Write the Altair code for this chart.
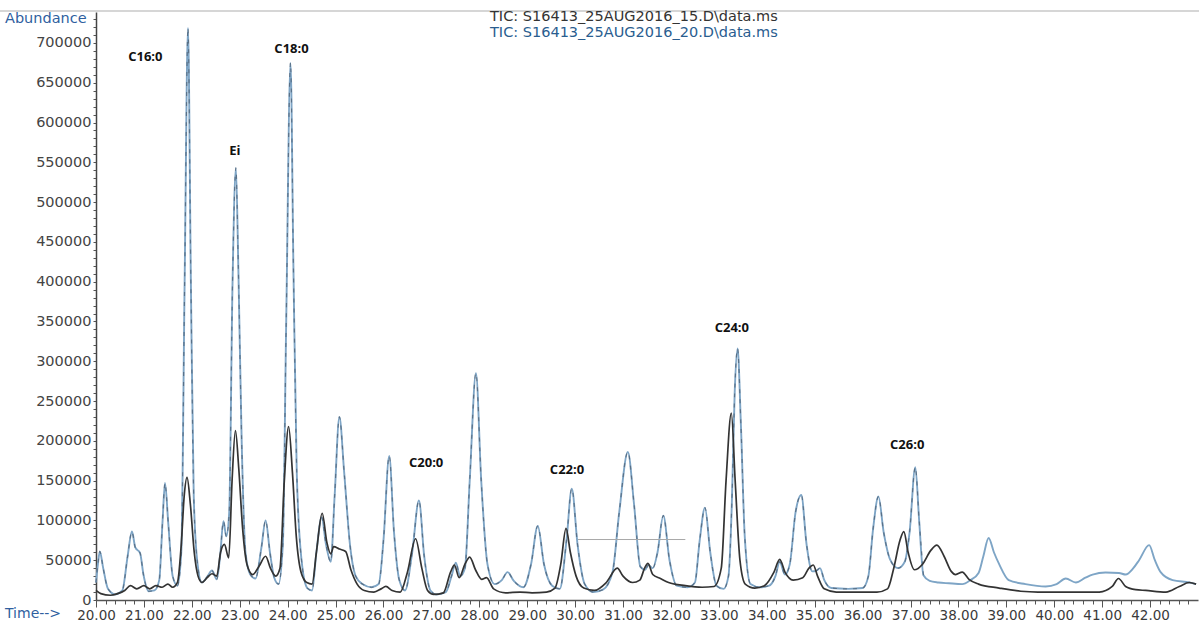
import altair as alt
import pandas as pd

# ---- data ----
blue_t = [20.00, 20.04, 20.08, 20.15, 20.25, 20.40, 20.55, 20.66, 20.75, 20.82, 20.92, 20.99,
          21.10, 21.22, 21.32, 21.39, 21.44, 21.51, 21.60, 21.70, 21.78, 21.85, 21.92, 21.98,
          22.04, 22.12, 22.21, 22.33, 22.42, 22.52, 22.59, 22.66, 22.72, 22.78, 22.85, 22.92,
          22.97, 23.04, 23.12, 23.22, 23.33, 23.45, 23.54, 23.63, 23.72, 23.81, 23.90, 23.97,
          24.06, 24.12, 24.19, 24.29, 24.41, 24.51, 24.60, 24.71, 24.80, 24.90, 24.98, 25.08,
          25.18, 25.30, 25.42, 25.56, 25.75, 25.90, 26.00, 26.12, 26.22, 26.33, 26.45, 26.60,
          26.74, 26.85, 26.98, 27.10, 27.30, 27.42, 27.51, 27.60, 27.70, 27.80, 27.93, 28.04,
          28.17, 28.32, 28.47, 28.59, 28.72, 28.92, 29.08, 29.22, 29.35, 29.52, 29.68, 29.82,
          29.93, 30.05, 30.20, 30.38, 30.58, 30.78, 30.92, 31.10, 31.23, 31.36, 31.46, 31.53,
          31.62, 31.72, 31.84, 31.97, 32.12, 32.35, 32.50, 32.60, 32.71, 32.82, 32.95, 33.10,
          33.20, 33.27, 33.33, 33.39, 33.46, 33.54, 33.66, 33.85, 34.05, 34.18, 34.27, 34.38,
          34.48, 34.60, 34.72, 34.83, 34.95, 35.04, 35.11, 35.20, 35.35, 35.70, 36.00, 36.12,
          36.22, 36.33, 36.44, 36.58, 36.74, 36.88, 36.98, 37.10, 37.18, 37.27, 37.40, 37.58,
          37.80, 38.08, 38.25, 38.42, 38.52, 38.63, 38.74, 38.85, 39.05, 39.40, 39.82, 40.05,
          40.24, 40.45, 40.65, 40.80, 41.07, 41.35, 41.49, 41.65, 41.77, 41.98, 42.10, 42.22,
          42.47, 42.82, 42.96]
blue_a = [22000, 45000, 61000, 40000, 14000, 7000, 12000, 55000, 86000, 66000, 59000, 32000,
          11000, 12000, 25000, 100000, 147000, 95000, 30000, 18000, 60000, 400000, 719000, 400000,
          130000, 45000, 22000, 30000, 37000, 26000, 55000, 99000, 80000, 110000, 400000, 543000,
          420000, 200000, 60000, 32000, 27000, 65000, 100000, 60000, 28000, 20000, 70000, 350000,
          675000, 420000, 160000, 50000, 15000, 12000, 60000, 104000, 70000, 48000, 130000, 230000,
          160000, 70000, 30000, 20000, 16000, 20000, 75000, 181000, 85000, 25000, 12000, 60000,
          125000, 55000, 12000, 7000, 10000, 30000, 47000, 30000, 40000, 150000, 285000, 150000,
          45000, 20000, 25000, 35000, 24000, 16000, 45000, 93000, 45000, 18000, 14000, 75000,
          140000, 70000, 20000, 10000, 13000, 35000, 110000, 186000, 120000, 42000, 38000, 44000,
          40000, 60000, 106000, 50000, 18000, 16000, 22000, 75000, 116000, 60000, 18000, 14000,
          30000, 120000, 260000, 316000, 220000, 80000, 20000, 16000, 18000, 30000, 48000, 32000,
          45000, 110000, 132000, 70000, 36000, 37000, 40000, 25000, 15000, 14000, 15000, 30000,
          90000, 130000, 85000, 50000, 40000, 48000, 85000, 167000, 100000, 31000, 24000, 22000,
          21000, 20000, 25000, 34000, 55000, 78000, 60000, 45000, 25000, 20000, 17000, 20000,
          27000, 22000, 28000, 32000, 34500, 34000, 32000, 40000, 50000, 69000, 50000, 35000,
          25000, 22000, 20000]

black_t = [20.00, 20.10, 20.30, 20.45, 20.60, 20.72, 20.85, 21.00, 21.12, 21.25, 21.38, 21.50,
           21.60, 21.70, 21.78, 21.84, 21.90, 21.97, 22.05, 22.13, 22.21, 22.32, 22.42, 22.52,
           22.60, 22.68, 22.77, 22.84, 22.91, 22.98, 23.06, 23.15, 23.27, 23.40, 23.54, 23.64,
           23.75, 23.84, 23.93, 24.02, 24.10, 24.18, 24.28, 24.40, 24.51, 24.60, 24.72, 24.82,
           24.90, 24.96, 25.08, 25.21, 25.32, 25.45, 25.60, 25.80, 25.95, 26.05, 26.18, 26.35,
           26.50, 26.67, 26.80, 26.92, 27.05, 27.25, 27.40, 27.48, 27.58, 27.70, 27.80, 27.92,
           28.05, 28.15, 28.30, 28.55, 28.85, 29.10, 29.40, 29.58, 29.70, 29.81, 29.90, 30.02,
           30.18, 30.40, 30.65, 30.88, 31.00, 31.20, 31.35, 31.45, 31.52, 31.62, 31.78, 31.95,
           32.30, 32.65, 32.90, 33.05, 33.15, 33.26, 33.34, 33.44, 33.55, 33.75, 33.95, 34.15,
           34.27, 34.38, 34.55, 34.75, 34.88, 34.97, 35.06, 35.20, 35.45, 35.90, 36.30, 36.52,
           36.65, 36.78, 36.86, 36.95, 37.08, 37.25, 37.42, 37.55, 37.70, 37.85, 37.94, 38.08,
           38.22, 38.42, 38.85, 39.30, 39.66, 40.30, 40.94, 41.21, 41.34, 41.49, 41.70, 41.91,
           42.33, 42.61, 42.82, 42.96]
black_a = [12000, 8000, 6000, 8000, 12000, 18000, 14000, 18000, 14000, 18000, 16000, 20000,
           16000, 22000, 70000, 130000, 154000, 120000, 60000, 30000, 22000, 28000, 33000, 30000,
           60000, 70000, 53000, 150000, 213000, 165000, 90000, 45000, 32000, 42000, 55000, 40000,
           30000, 40000, 150000, 218000, 160000, 80000, 35000, 22000, 20000, 60000, 109000, 72000,
           58000, 67000, 64000, 61000, 38000, 20000, 12000, 10000, 14000, 17000, 12000, 10000,
           35000, 77000, 40000, 12000, 7000, 9000, 35000, 44000, 28000, 45000, 54000, 38000,
           26000, 28000, 14000, 9000, 10000, 9000, 10000, 15000, 45000, 90000, 60000, 30000,
           15000, 12000, 22000, 40000, 30000, 22000, 25000, 40000, 46000, 32000, 27000, 22000,
           18000, 16000, 17000, 40000, 150000, 235000, 150000, 50000, 20000, 15000, 18000, 35000,
           51000, 35000, 25000, 28000, 40000, 44000, 30000, 14000, 10000, 10000, 10000, 14000,
           40000, 75000, 86000, 60000, 38000, 45000, 62000, 69000, 55000, 36000, 32000, 35000,
           26000, 20000, 15000, 11000, 10000, 10000, 10000, 17000, 27000, 17000, 13000, 12000,
           10000, 17000, 22000, 20000]

ann_labels = ["C16:0", "Ei", "C18:0", "C20:0", "C22:0", "C24:0", "C26:0"]
ann_t = [21.03, 22.90, 24.08, 26.89, 29.83, 33.27, 36.93]
ann_a = [682000, 564000, 693000, 172000, 163000, 342000, 195000]

# faint horizontal baseline segment near C22:0
hline_t0 = [30.06]
hline_t1 = [32.30]
hline_a = [76000]

series_names = ["TIC: S16413_25AUG2016_15.D\\data.ms", "TIC: S16413_25AUG2016_20.D\\data.ms"]

x_ticks = [round(20 + 0.2 * i, 1) for i in range(115)]
y_ticks = [10000 * i for i in range(74)]

blue = pd.DataFrame({"t": blue_t, "a": blue_a})
black = pd.DataFrame({"t": black_t, "a": black_a})
ann = pd.DataFrame({"label": ann_labels, "t": ann_t, "a": ann_a})
hl = pd.DataFrame({"t": hline_t0, "t2": hline_t1, "a": hline_a})

W, H = 1102, 588

X = alt.X("t:Q", title=None,
          scale=alt.Scale(domain=[20, 43.0], nice=False, zero=False),
          axis=alt.Axis(values=x_ticks, grid=False, domainColor="#555555", domainWidth=1.5,
                        tickColor="#555555", tickWidth=1,
                        tickSize={"condition": {"test": "abs(datum.value - round(datum.value)) < 0.001", "value": 7}, "value": 4},
                        labelExpr="abs(datum.value - round(datum.value)) < 0.001 ? format(datum.value, '.2f') : ''",
                        labelFont="DejaVu Sans", labelFontSize=13.5, labelColor="#3a3a3a",
                        labelPadding=1, labelOverlap=False, labelFlush=False))
Y = alt.Y("a:Q", title=None,
          scale=alt.Scale(domain=[0, 738900], nice=False),
          axis=alt.Axis(values=y_ticks, grid=False, domainColor="#444444", domainWidth=1.5,
                        tickColor="#555555", tickSize=3, tickWidth=1,
                        labelExpr="datum.value % 50000 === 0 ? '' + datum.value : ''",
                        labelFont="DejaVu Sans", labelFontSize=14.5, labelColor="#444444",
                        labelPadding=2, labelOverlap=False, labelFlush=False))

blue_line = alt.Chart(blue).mark_line(color="#7ea5c6", strokeWidth=1.9, interpolate="monotone").encode(x=X, y=Y)
blue_dash = alt.Chart(blue).transform_filter("datum.t < 37.3").mark_line(
    color="#3a4654", strokeWidth=1.2, strokeDash=[4, 6], opacity=0.55, interpolate="monotone").encode(x=X, y=Y)
black_line = alt.Chart(black).mark_line(color="#333333", strokeWidth=1.7, interpolate="monotone").encode(x=X, y=Y)

hline = alt.Chart(hl).mark_rule(color="#a8a8a8", strokeWidth=1).encode(x=X, x2="t2:Q", y=Y)

labels = alt.Chart(ann).mark_text(font="Open Sans", fontWeight="bold", fontSize=13,
                                  color="#111111", align="center", baseline="middle").encode(
    x=X, y=Y, text="label:N")

one = pd.DataFrame({"k": [0]})
top_rule = alt.Chart(one).mark_rule(color="#c8c8c8", strokeWidth=1.5).encode(
    x=alt.value(-96), x2=alt.value(W + 1), y=alt.value(-1))

title1 = alt.Chart(pd.DataFrame({"s": [series_names[0]]})).mark_text(
    font="DejaVu Sans", fontSize=14.5, color="#333333", align="left", baseline="middle").encode(
    text="s:N", x=alt.value(394), y=alt.value(5))
title2 = alt.Chart(pd.DataFrame({"s": [series_names[1]]})).mark_text(
    font="DejaVu Sans", fontSize=14.5, color="#2a5d8f", align="left", baseline="middle").encode(
    text="s:N", x=alt.value(394), y=alt.value(21))

abund = alt.Chart(pd.DataFrame({"s": ["Abundance"]})).mark_text(
    font="DejaVu Sans", fontSize=14.5, color="#2f5f9f", align="left", baseline="middle").encode(
    text="s:N", x=alt.value(-91), y=alt.value(7))
timel = alt.Chart(pd.DataFrame({"s": ["Time-->"]})).mark_text(
    font="DejaVu Sans", fontSize=14, color="#2f5f9f", align="left", baseline="middle").encode(
    text="s:N", x=alt.value(-91), y=alt.value(H + 14))

chart = alt.layer(blue_line, blue_dash, black_line, hline, labels, top_rule,
                  title1, title2, abund, timel).properties(
    width=W, height=H,
    autosize=alt.AutoSizeParams(type="none"),
    padding={"left": 96, "top": 12, "right": 1, "bottom": 23},
    background="white",
).configure_view(strokeWidth=0)

chart.save("out.html", embed_options={"renderer": "svg", "actions": False})
